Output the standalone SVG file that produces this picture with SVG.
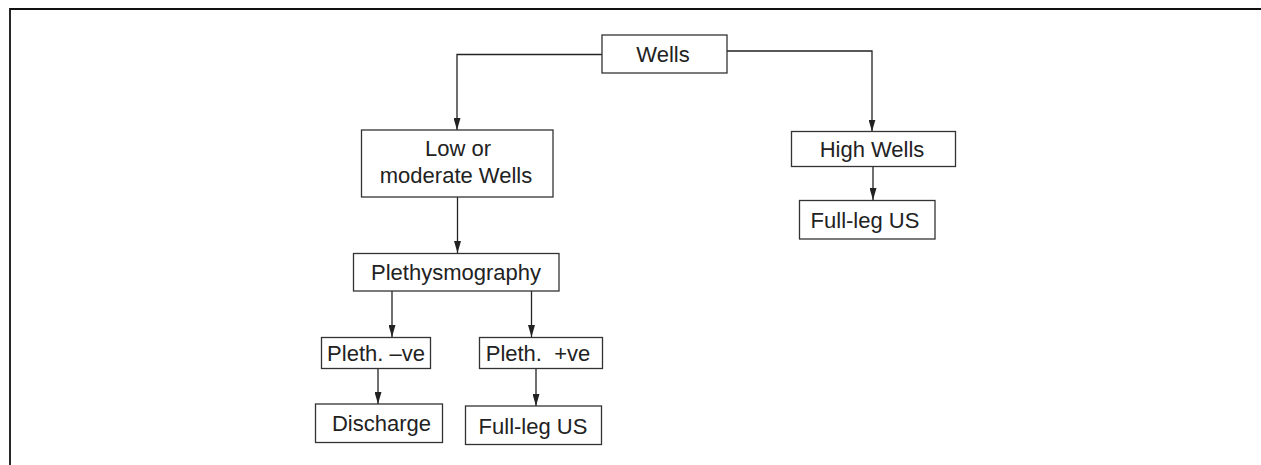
<svg xmlns="http://www.w3.org/2000/svg" width="1261" height="465" viewBox="0 0 1261 465">
<style>
.box{fill:#fff;stroke:#333;stroke-width:1.3}
.t{font-family:"Liberation Sans",Arial,sans-serif;font-size:22px;fill:#222;text-anchor:middle}
.c{fill:none;stroke:#222;stroke-width:1.3}
.frame{fill:none;stroke:#111;stroke-width:1.8}
</style>
<defs>
<marker id="ah" viewBox="0 0 12 7" refX="12" refY="3.5" markerWidth="12" markerHeight="7" markerUnits="userSpaceOnUse" orient="auto">
<path d="M0,0 L12,3.5 L0,7 Z" fill="#222"/>
</marker>
</defs>
<path class="frame" d="M10,465 V9 H1261"/>
<g id="connectors">
<path class="c" d="M602,54.5 H457 V130" marker-end="url(#ah)"/>
<path class="c" d="M727,51 H872 V131.5" marker-end="url(#ah)"/>
<path class="c" d="M457.5,197 V253" marker-end="url(#ah)"/>
<path class="c" d="M873,167 V200" marker-end="url(#ah)"/>
<path class="c" d="M392,291 V337" marker-end="url(#ah)"/>
<path class="c" d="M531.5,291 V337" marker-end="url(#ah)"/>
<path class="c" d="M378,368.5 V404" marker-end="url(#ah)"/>
<path class="c" d="M536,368.5 V406" marker-end="url(#ah)"/>
</g>
<g id="wells">
<rect class="box" x="602" y="35" width="125" height="38"/>
<text class="t" x="663" y="62">Wells</text>
</g>
<g id="low">
<rect class="box" x="361.5" y="130" width="191.5" height="67"/>
<text class="t" x="458" y="156">Low or</text>
<text class="t" x="456" y="183">moderate Wells</text>
</g>
<g id="high">
<rect class="box" x="791.5" y="131.5" width="164" height="35"/>
<text class="t" x="872" y="157">High Wells</text>
</g>
<g id="fullleg1">
<rect class="box" x="799.5" y="200.5" width="135.5" height="38.5"/>
<text class="t" x="865" y="227.5">Full-leg US</text>
</g>
<g id="pleth">
<rect class="box" x="353.5" y="253.5" width="205.5" height="37.5"/>
<text class="t" x="456" y="280">Plethysmography</text>
</g>
<g id="plethneg">
<rect class="box" x="321.5" y="337.5" width="109" height="31"/>
<text class="t" x="376" y="361">Pleth. –ve</text>
</g>
<g id="plethpos">
<rect class="box" x="479.5" y="337.5" width="123" height="31"/>
<text class="t" x="538" y="361">Pleth.&#160; +ve</text>
</g>
<g id="discharge">
<rect class="box" x="315.5" y="404" width="127" height="38.5"/>
<text class="t" x="381.5" y="431">Discharge</text>
</g>
<g id="fullleg2">
<rect class="box" x="465.5" y="406" width="136" height="38.5"/>
<text class="t" x="533" y="434">Full-leg US</text>
</g>
</svg>
